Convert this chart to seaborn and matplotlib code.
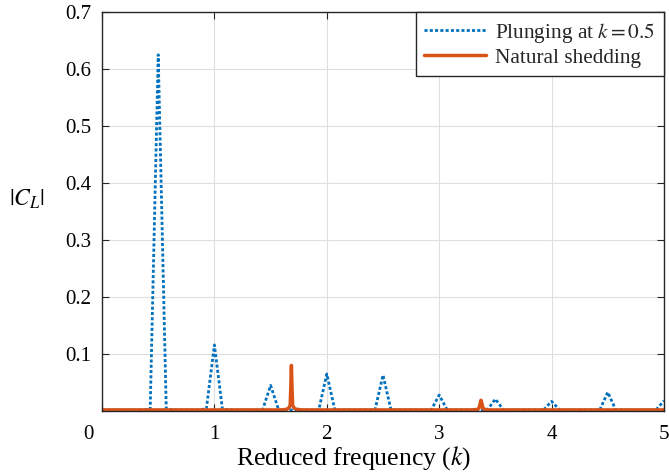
import numpy as np
import pandas as pd
import matplotlib
matplotlib.use("Agg")
import matplotlib.pyplot as plt
from matplotlib.transforms import ScaledTranslation
import seaborn as sns

# ---- data ----
# plunging at k=0.5 : spectrum on bins of width 1/14
k_plunge = np.arange(71) / 14.0
cl_plunge = [
    0.002, 0.002, 0.002, 0.002, 0.002, 0.002, 0.003, 0.625, 0.004, 0.002,
    0.002, 0.002, 0.002, 0.004, 0.116, 0.003, 0.002, 0.002, 0.002, 0.002,
    0.002, 0.045, 0.002, 0.002, 0.002, 0.002, 0.002, 0.002, 0.065, 0.002,
    0.002, 0.002, 0.002, 0.002, 0.002, 0.063, 0.002, 0.002, 0.002, 0.002,
    0.002, 0.002, 0.028, 0.002, 0.002, 0.002, 0.002, 0.002, 0.002, 0.021,
    0.002, 0.002, 0.002, 0.002, 0.002, 0.002, 0.017, 0.002, 0.002, 0.002,
    0.002, 0.002, 0.002, 0.033, 0.002, 0.002, 0.002, 0.002, 0.002, 0.002,
    0.018,
]

# natural shedding
k_shed = [0.0, 1.60, 1.64, 1.66, 1.674, 1.679, 1.685, 1.691, 1.696, 1.71, 1.73, 1.78,
          3.30, 3.34, 3.355, 3.364, 3.372, 3.380, 3.39, 3.40, 3.44, 5.0]
cl_shed = [0.002, 0.002, 0.003, 0.005, 0.010, 0.038, 0.080, 0.038, 0.010, 0.005, 0.003, 0.002,
           0.002, 0.003, 0.005, 0.013, 0.019, 0.013, 0.005, 0.003, 0.002, 0.002]

x_ticks = [0, 1, 2, 3, 4, 5]
y_ticks = [0.1, 0.2, 0.3, 0.4, 0.5, 0.6, 0.7]
labels = ["Plunging at $k = 0.5$", "Natural shedding"]

# ---- style ----
sns.set_theme(style="whitegrid")
plt.rcParams["font.family"] = ["Liberation Serif", "DejaVu Serif"]
plt.rcParams["mathtext.fontset"] = "stix"

blue = "#0072BD"
orange = "#D95319"
axcol = "#262626"

fig = plt.figure(figsize=(6.69, 4.73), dpi=100)
ax = fig.add_axes([0.1525, 0.131, 0.8400, 0.8436])

df_p = pd.DataFrame({"k": k_plunge, "cl": cl_plunge})
df_s = pd.DataFrame({"k": k_shed, "cl": cl_shed})

sns.lineplot(data=df_p, x="k", y="cl", ax=ax, color=blue, lw=2.0,
             linestyle=(0, (1.1, 0.8)), label=labels[0], sort=True)
sns.lineplot(data=df_s, x="k", y="cl", ax=ax, color=orange, lw=2.5,
             label=labels[1], sort=True)

ax.set_xlim(0, 5)
ax.set_ylim(0, 0.7)
ax.set_xticks(x_ticks)
ax.set_yticks(y_ticks)
ax.set_xticklabels([str(v) for v in x_ticks])
ax.set_yticklabels([f"{v:.1f}" for v in y_ticks])

ax.set_facecolor("white")
ax.grid(True, color="#dfdfdf", lw=0.8)
for s in ax.spines.values():
    s.set_visible(True)
    s.set_color(axcol)
    s.set_linewidth(1.0)

ax.tick_params(axis="both", which="both", direction="in", length=5, width=0.8,
               color=axcol, labelcolor="black", labelsize=15,
               top=True, right=True, bottom=True, left=True)
ax.tick_params(axis="x", pad=10)
ax.tick_params(axis="y", pad=8)

# shift the "0" x tick label left as in the reference
lab0 = ax.get_xticklabels()[0]
lab0.set_transform(lab0.get_transform() + ScaledTranslation(-0.14, 0, fig.dpi_scale_trans))

ax.set_xlabel("Reduced frequency ($k$)", fontsize=18.5, color="black")
ax.xaxis.set_label_coords(0.447, -0.118)
ax.xaxis.label.set_verticalalignment("center")
ax.set_ylabel("$|C_L|$", fontsize=17, color="black", rotation=0)
ax.yaxis.set_label_coords(-0.133, 0.53)
ax.yaxis.label.set_verticalalignment("center")
ax.yaxis.label.set_horizontalalignment("center")

leg = ax.legend(loc="upper right", borderaxespad=0, fontsize=15.3, frameon=True,
                fancybox=False, handlelength=2.9, handletextpad=0.45,
                borderpad=0.4, labelspacing=0.15)
leg.get_frame().set_edgecolor(axcol)
leg.get_frame().set_linewidth(1.0)
leg.get_frame().set_facecolor("white")
leg.get_frame().set_alpha(1)

fig.savefig("out.png", dpi=100)
